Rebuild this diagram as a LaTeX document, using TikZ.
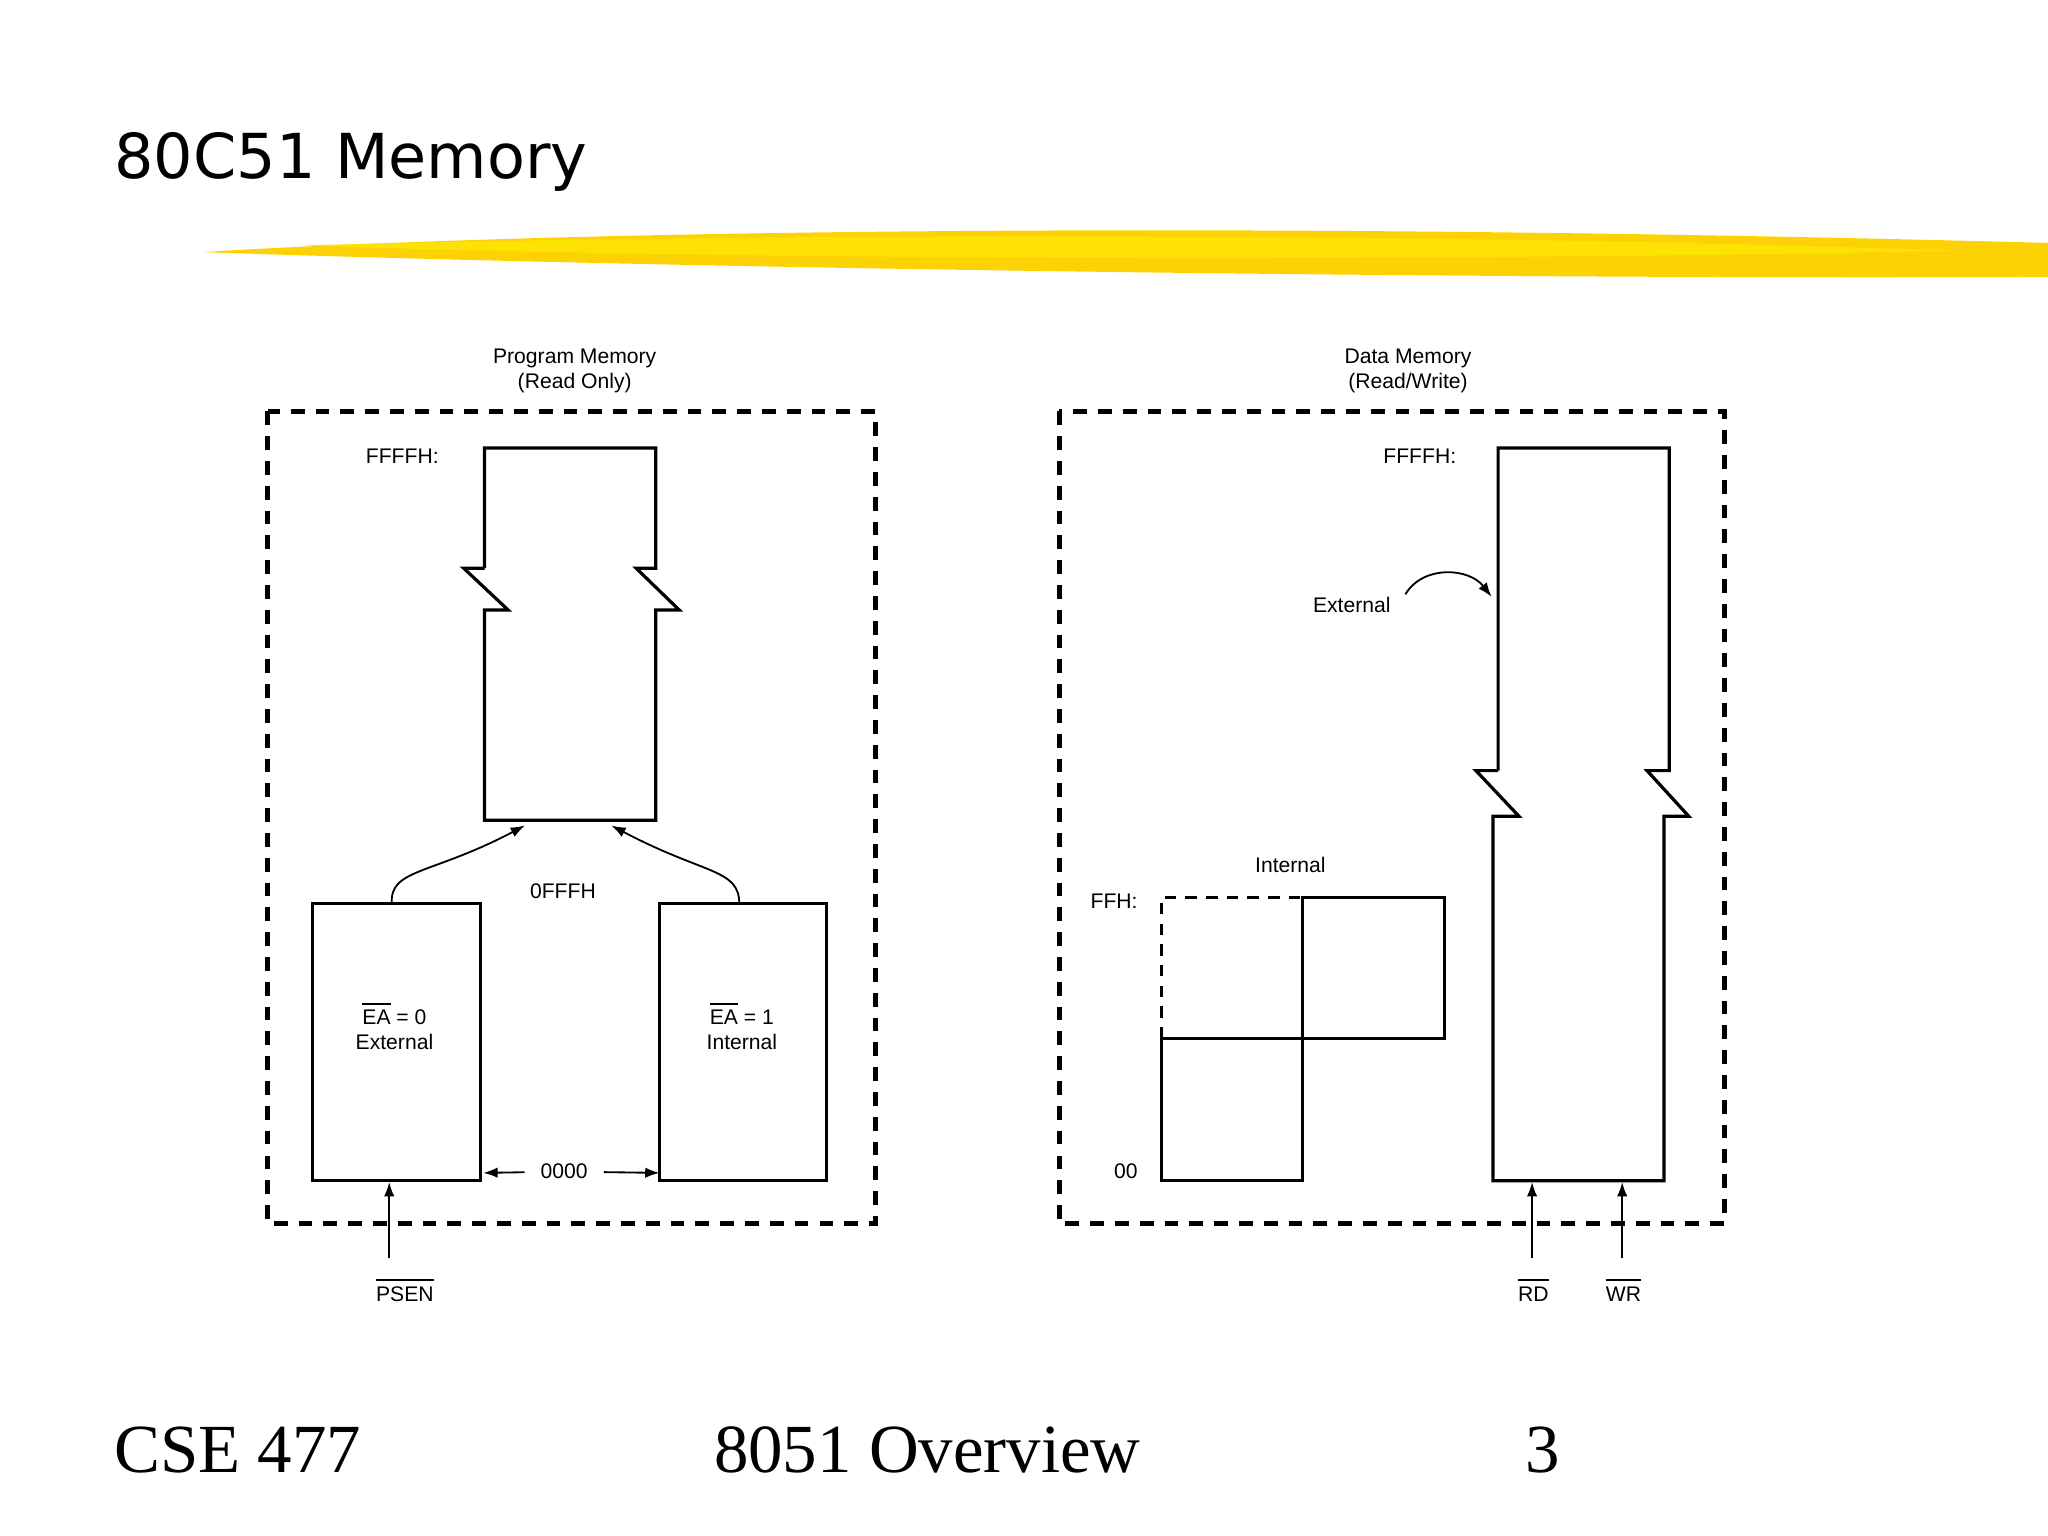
\documentclass[tikz,border=0pt]{standalone}
\usepackage{fontspec}
\setmainfont{Liberation Sans}
\newfontfamily\serifface{Liberation Serif}
\newfontfamily\headface{DejaVu Sans}
\usetikzlibrary{positioning,arrows.meta,calc}

\begin{document}
\begin{tikzpicture}[x=0.01cm, y=-0.01cm,
    frame/.style={draw, line width=1.1pt, dash pattern=on 3pt off 2.4pt},
    mem/.style={draw, line width=0.7pt},
    arrow/.style={-{Latex[length=1.1mm,width=0.8mm]}, line width=0.4pt},
    label/.style={font=\fontsize{4.6}{5.3}\selectfont, align=center},
    foot/.style={font=\serifface\fontsize{15}{17}\selectfont}
]
\useasboundingbox (0,0) rectangle (1568,1176);
% Title and brush stroke
\node[font=\headface\fontsize{13.5}{16}\selectfont, anchor=west, inner sep=0pt] (title) at (87,124) {80C51 Memory};
\fill[yellow!70!orange] (155,193) .. controls (400,178) and (900,168) .. (1568,186)
  -- (1568,212) .. controls (1100,214) and (500,205) .. (155,193) -- cycle;
\fill[yellow!85!orange] (230,188) .. controls (600,178) and (1100,178) .. (1500,192)
  .. controls (1100,200) and (600,200) .. (230,188) -- cycle;

% Program memory
\node[label] (ptitle) at (440,284) {Program Memory\\(Read Only)};
\draw[frame] (205,315) rectangle (670,937);
\draw[mem] (371,435) -- (371,343) -- (502,343) -- (502,435) -- (487,435) -- (520,467) -- (502,467) -- (502,628)
  -- (371,628) -- (371,467) -- (389,467) -- (355,435) -- (371,435);
\coordinate (ptopL) at (402,632);
\coordinate (ptopR) at (468,632);
\node[label] (pffff) at (308,349) {FFFFH:};
\draw[mem] (239,692) rectangle (368,904);
\draw[mem] (505,692) rectangle (633,904);
\coordinate (extT) at (300,692);
\coordinate (intT) at (566,692);
\coordinate (extB) at (298,905);
\coordinate (extR) at (370,898);
\coordinate (intL) at (505,898);
\node[label] (ea0) at (302,785) {$\overline{\mbox{EA}}$ = 0\\External};
\node[label] (ea1) at (568,785) {$\overline{\mbox{EA}}$ = 1\\Internal};
\node[label] (p0fff) at (431,682) {0FFFH};
\node[label] (p0000) at (432,897) {0000};
\node[label] (psen) at (310,987) {$\overline{\mbox{PSEN}}$};
\draw[arrow] (extT) .. controls (298,665) and (330,670) .. (ptopL);
\draw[arrow] (intT) .. controls (566,665) and (540,670) .. (ptopR);
\draw[arrow] (p0000) -- (extR);
\draw[arrow] (p0000) -- (intL);
\draw[arrow] (psen.north -| extB) ++(0,-2) -- (extB);

% Data memory
\node[label] (dtitle) at (1078,284) {Data Memory\\(Read/Write)};
\draw[frame] (811,315) rectangle (1320,937);
\draw[mem] (1147,590) -- (1147,343) -- (1278,343) -- (1278,590) -- (1261,590) -- (1293,625) -- (1274,625) -- (1274,904)
  -- (1143,904) -- (1143,625) -- (1163,625) -- (1130,590) -- (1147,590);
\node[label] (dffff) at (1087,349) {FFFFH:};
\node[label] (dext) at (1035,463) {External};
\coordinate (dextT) at (1142,457);
\draw[arrow] (1076,455) .. controls (1090,432) and (1125,435) .. (dextT);
\draw[mem] (889,795) rectangle (997,904);
\draw[mem] (997,687) rectangle (1106,795);
\draw[line width=0.7pt, dash pattern=on 2.5pt off 2pt] (889,795) -- (889,687) -- (997,687);
\node[label] (dint) at (988,662) {Internal};
\node[label] (dffh) at (853,690) {FFH:};
\node[label] (d00) at (862,897) {00};
\node[label] (rd) at (1174,987) {$\overline{\mbox{RD}}$};
\node[label] (wr) at (1243,987) {$\overline{\mbox{WR}}$};
\coordinate (rdB) at (1173,905);
\coordinate (wrB) at (1242,905);
\draw[arrow] (rd.north -| rdB) ++(0,-2) -- (rdB);
\draw[arrow] (wr.north -| wrB) ++(0,-2) -- (wrB);

% Footer
\node[foot] (course) at (182,1110) {CSE 477};
\node[foot] (topic) at (710,1110) {8051 Overview};
\node[foot] (page) at (1181,1110) {3};
\end{tikzpicture}
\end{document}
